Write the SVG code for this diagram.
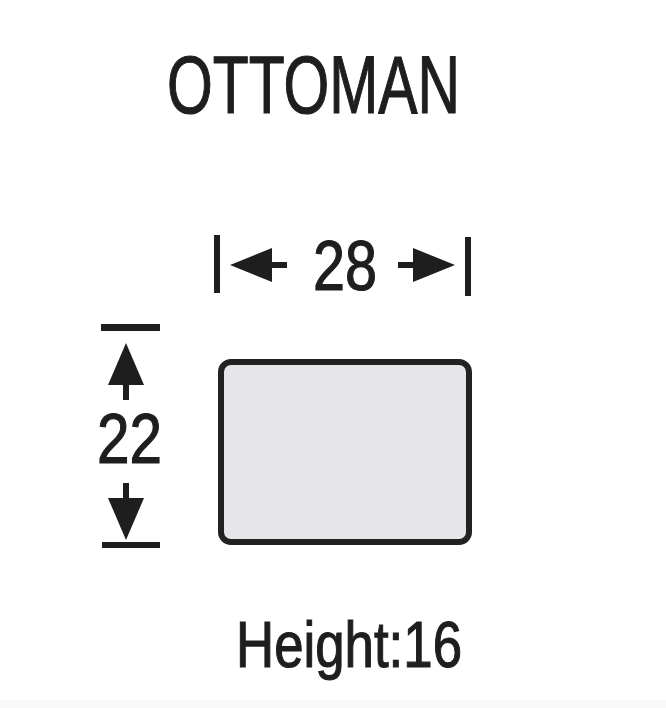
<svg xmlns="http://www.w3.org/2000/svg" width="666" height="708" viewBox="0 0 666 708">
<style>
  text { font-family: "Liberation Sans", Arial, sans-serif; fill: #1e1e1e; stroke: #1e1e1e; stroke-width: 1.2; }
  .ink { fill: #1e1e1e; }
  .shape { fill: #e6e6e8; stroke: #222222; stroke-width: 6; }
</style>
<rect width="666" height="708" fill="#ffffff"/>
<rect y="700" width="666" height="8" fill="#f8f8f8"/>
<g id="title">
  <text x="167" y="113" font-size="81" textLength="293" lengthAdjust="spacingAndGlyphs">OTTOMAN</text>
</g>
<g id="width-dimension">
  <rect class="ink" x="214" y="235" width="6" height="58"/>
  <rect class="ink" x="465" y="237" width="6" height="59"/>
  <polygon class="ink" points="230,265 272,248 272,262 287,262 287,268 272,268 272,282"/>
  <polygon class="ink" points="455,265 413,248 413,262 398,262 398,268 413,268 413,282"/>
  <text x="313" y="290" font-size="70" textLength="64" lengthAdjust="spacingAndGlyphs">28</text>
</g>
<g id="depth-dimension">
  <rect class="ink" x="101" y="324" width="59" height="7"/>
  <rect class="ink" x="102" y="542" width="58" height="6"/>
  <polygon class="ink" points="126,343 144,385 129,385 129,400 123,400 123,385 108,385"/>
  <polygon class="ink" points="126,540 144,498 129,498 129,483 123,483 123,498 108,498"/>
  <text x="97" y="463" font-size="70" textLength="65" lengthAdjust="spacingAndGlyphs">22</text>
</g>
<g id="ottoman">
  <rect class="shape" x="221" y="362" width="248" height="180" rx="10" ry="10"/>
</g>
<g id="height-label">
  <text x="236" y="667" font-size="65" textLength="226" lengthAdjust="spacingAndGlyphs">Height:16</text>
</g>
</svg>
